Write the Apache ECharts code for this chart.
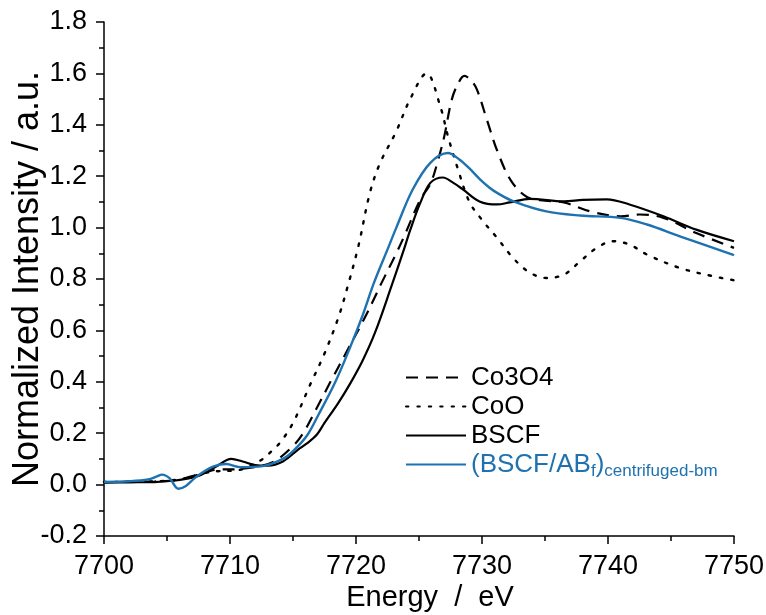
<!DOCTYPE html>
<html>
<head>
<meta charset="utf-8">
<script src="https://cdn.jsdelivr.net/npm/echarts@6/dist/echarts.min.js"></script>
<style>html,body{margin:0;padding:0;background:#fff;}#c{width:766px;height:615px;}</style>
</head>
<body>
<div id="c"></div>
<script>
// Series names
const seriesNames = ['Co3O4', 'CoO', 'BSCF', '(BSCF/ABf)centrifuged-bm'];

// Co3O4 (dashed)
const co3o4E = [7700,7704,7706,7707.5,7709,7710.5,7712,7713.5,7715,7715.8,7716.8,7717.9,7719.4,7720.6,7721.5,7722.0,7723.2,7723.9,7725.1,7725.9,7726.5,7727,7727.6,7728.1,7728.6,7729.1,7729.6,7730.4,7731.2,7732.3,7733.6,7735,7736.5,7738.6,7741,7742.5,7744.4,7747,7750];
const co3o4I = [0.01,0.012,0.02,0.04,0.058,0.06,0.068,0.09,0.15,0.20,0.29,0.393,0.53,0.64,0.73,0.782,0.90,0.975,1.109,1.17,1.26,1.354,1.498,1.56,1.59,1.575,1.537,1.418,1.30,1.183,1.118,1.105,1.098,1.063,1.044,1.051,1.038,0.979,0.921];

// CoO (dotted)
const cooE = [7700,7703,7705,7706.5,7708,7709,7710.5,7711.5,7712.6,7713.3,7714,7715,7716.4,7717.5,7718.6,7719.4,7720.2,7721.1,7721.9,7723.2,7724.3,7725.6,7726.7,7727.3,7728.1,7729.0,7730.0,7731.2,7732.5,7733.8,7735.1,7736.5,7737.8,7739.1,7740.4,7741.7,7743.1,7745.7,7748.4,7750];
const cooI = [0.01,0.012,0.015,0.025,0.045,0.052,0.055,0.07,0.10,0.13,0.165,0.24,0.393,0.51,0.65,0.782,0.93,1.135,1.25,1.375,1.50,1.60,1.47,1.355,1.226,1.10,1.03,0.96,0.88,0.825,0.804,0.817,0.869,0.921,0.947,0.934,0.895,0.843,0.81,0.795];

// BSCF (solid black)
const bscfE = [7700,7702,7704,7705.5,7706.5,7707.6,7708.9,7710.1,7711,7712,7713,7714.2,7715.4,7716.1,7716.9,7717.5,7718.6,7719.5,7720.5,7721.5,7722.8,7723.8,7724.3,7725.1,7725.9,7726.9,7727.7,7728.5,7729.8,7731.2,7732.2,7733.8,7736.5,7738,7739.9,7741.7,7744.4,7747,7750];
const bscfI = [0.008,0.009,0.010,0.015,0.022,0.035,0.07,0.10,0.09,0.076,0.074,0.09,0.136,0.16,0.195,0.24,0.318,0.39,0.48,0.59,0.77,0.914,0.99,1.096,1.174,1.195,1.175,1.148,1.102,1.09,1.098,1.112,1.102,1.108,1.11,1.09,1.044,0.992,0.947];

// (BSCF/ABf)centrifuged-bm (solid blue)
const cbmE = [7700,7702,7703.5,7704.2,7704.6,7705.2,7705.9,7706.5,7707.2,7707.9,7708.7,7709.7,7710.8,7712.6,7714.2,7715,7716.1,7717,7718.3,7719.5,7720.5,7721.4,7722.6,7723.2,7724.5,7725.9,7727.3,7728.2,7729,7729.8,7730.6,7731.2,7732.5,7735.1,7737.8,7741,7743.1,7745.7,7750];
const cbmI = [0.01,0.013,0.02,0.032,0.039,0.025,-0.016,-0.005,0.025,0.05,0.071,0.08,0.068,0.072,0.10,0.13,0.19,0.27,0.393,0.53,0.655,0.782,0.927,1.0,1.148,1.252,1.29,1.265,1.23,1.19,1.155,1.135,1.102,1.063,1.047,1.038,1.012,0.966,0.893];

const zip = (xs, ys) => xs.map((x, i) => [x, ys[i]]);
const FONT = 'Liberation Sans, Arial, sans-serif';
const BLUE = '#1f72b0';

const chart = echarts.init(document.getElementById('c'), null, {renderer: 'canvas'});
chart.setOption({
  backgroundColor: '#ffffff',
  animation: false,
  grid: {left: 104, right: 32, top: 22, bottom: 79, containLabel: false, outerBoundsMode: 'none'},
  legend: {
    orient: 'vertical',
    left: 405,
    top: 362,
    itemWidth: 60,
    itemHeight: 14,
    itemGap: -2,
    padding: 0,
    selectedMode: false,
    itemStyle: {color: 'rgba(0,0,0,0)', borderWidth: 0, opacity: 0},
    textStyle: {fontFamily: FONT, fontSize: 26, color: '#000', lineHeight: 31,
      rich: {
        m: {fontFamily: FONT, fontSize: 26, color: BLUE, lineHeight: 31},
        s: {fontFamily: FONT, fontSize: 17, color: BLUE, lineHeight: 17, padding: [14, 0, 0, 0]}
      }
    },
    formatter: function (name) {
      if (name === seriesNames[3]) return '{m|(BSCF/AB}{s|f}{m|)}{s|centrifuged-bm}';
      return name;
    },
    data: [
      {name: seriesNames[0]},
      {name: seriesNames[1]},
      {name: seriesNames[2]},
      {name: seriesNames[3], textStyle: {color: BLUE}}
    ]
  },
  xAxis: {
    type: 'value', min: 7700, max: 7750, interval: 10,
    name: 'Energy  /  eV', nameLocation: 'middle', nameGap: 47, nameMoveOverlap: false,
    nameTextStyle: {fontFamily: FONT, fontSize: 29, color: '#000', padding: [0, 0, 0, 22]},
    axisLine: {onZero: false, lineStyle: {color: '#000', width: 1.5}},
    axisTick: {show: true, inside: false, length: 8, lineStyle: {color: '#000', width: 1.5}},
    minorTick: {show: true, splitNumber: 2, length: 5, lineStyle: {color: '#000', width: 1.5}},
    axisLabel: {fontFamily: FONT, fontSize: 27, color: '#000', margin: 17,
      formatter: v => String(Math.round(v))},
    splitLine: {show: false}
  },
  yAxis: {
    type: 'value', min: -0.2, max: 1.8, interval: 0.2,
    name: 'Normalized Intensity / a.u.', nameLocation: 'middle', nameGap: 58, nameMoveOverlap: false,
    nameTextStyle: {fontFamily: FONT, fontSize: 36, color: '#000'},
    axisLine: {show: true, onZero: false, lineStyle: {color: '#000', width: 1.5}},
    axisTick: {show: true, inside: false, length: 8, lineStyle: {color: '#000', width: 1.5}},
    minorTick: {show: true, splitNumber: 2, length: 5, lineStyle: {color: '#000', width: 1.5}},
    axisLabel: {fontFamily: FONT, fontSize: 27, color: '#000', margin: 17,
      formatter: v => (Math.round(v * 10) / 10).toFixed(1)},
    splitLine: {show: false}
  },
  series: [
    {name: seriesNames[0], type: 'line', data: zip(co3o4E, co3o4I), symbol: 'none', smooth: 0.35,
      lineStyle: {color: '#000', width: 2.2, type: [12, 8]}, itemStyle: {color: '#000'}},
    {name: seriesNames[1], type: 'line', data: zip(cooE, cooI), symbol: 'none', smooth: 0.35,
      lineStyle: {color: '#000', width: 2.4, type: [2.4, 9], cap: 'round'}, itemStyle: {color: '#000'}},
    {name: seriesNames[2], type: 'line', data: zip(bscfE, bscfI), symbol: 'none', smooth: 0.35,
      lineStyle: {color: '#000', width: 2.2}, itemStyle: {color: '#000'}},
    {name: seriesNames[3], type: 'line', data: zip(cbmE, cbmI), symbol: 'none', smooth: 0.35,
      lineStyle: {color: BLUE, width: 2.4}, itemStyle: {color: BLUE}}
  ]
});
</script>
</body>
</html>
